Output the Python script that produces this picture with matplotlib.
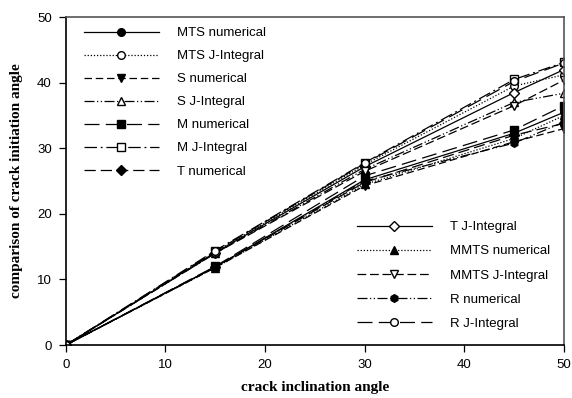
import matplotlib
matplotlib.use("Agg")
import matplotlib.pyplot as plt

# crack inclination angle
x = [0, 15, 30, 45, 50]

mts_num = [0, 11.9, 25.2, 32.3, 35.5]
mts_j = [0, 14.2, 27.5, 39.5, 41.2]
s_num = [0, 11.8, 24.3, 31.0, 33.0]
s_j = [0, 14.0, 26.8, 37.0, 38.4]
m_num = [0, 12.0, 25.8, 32.8, 36.5]
m_j = [0, 14.4, 27.8, 40.5, 43.1]
t_num = [0, 11.9, 24.8, 32.0, 33.8]
t_j = [0, 14.1, 27.2, 38.5, 42.0]
mmts_num = [0, 11.8, 24.5, 31.5, 35.0]
mmts_j = [0, 14.0, 26.5, 36.5, 40.4]
r_num = [0, 11.9, 25.0, 30.8, 34.0]
r_j = [0, 14.3, 27.7, 40.2, 43.0]

labels1 = ['MTS numerical', 'MTS J-Integral', 'S numerical', 'S J-Integral',
           'M numerical', 'M J-Integral', 'T numerical']
labels2 = ['T J-Integral', 'MMTS numerical', 'MMTS J-Integral',
           'R numerical', 'R J-Integral']

plt.rcParams['font.family'] = ['Liberation Sans', 'DejaVu Sans']

fig = plt.figure(figsize=(5.72, 3.98), dpi=100)
ax = fig.add_axes([0.115, 0.133, 0.871, 0.824])

ms = 5.5
k = dict(color='black', lw=0.9, markersize=ms, markeredgecolor='black')
fill = dict(markerfacecolor='black')
hollow = dict(markerfacecolor='white')

lines1 = [
    ax.plot(x, mts_num, '-', marker='o', **k, **fill)[0],
    ax.plot(x, mts_j, ls=(0, (1, 1.5)), marker='o', **k, **hollow)[0],
    ax.plot(x, s_num, ls=(0, (6, 3)), marker='v', **k, **fill)[0],
    ax.plot(x, s_j, ls=(0, (8, 2, 1, 2, 1, 2)), marker='^', **k, **hollow)[0],
    ax.plot(x, m_num, ls=(0, (12, 5)), marker='s', **k, **fill)[0],
    ax.plot(x, m_j, ls=(0, (10, 3, 1.5, 3)), marker='s', **k, **hollow)[0],
    ax.plot(x, t_num, ls=(0, (9, 4)), marker='D', **dict(k, markersize=5), **fill)[0],
]
lines2 = [
    ax.plot(x, t_j, '-', marker='D', **dict(k, markersize=5), **hollow)[0],
    ax.plot(x, mmts_num, ls=(0, (1, 1.5)), marker='^', **k, **fill)[0],
    ax.plot(x, mmts_j, ls=(0, (7, 3)), marker='v', **k, **hollow)[0],
    ax.plot(x, r_num, ls=(0, (8, 2, 1, 2, 1, 2)), marker='h', **k, **fill)[0],
    ax.plot(x, r_j, ls=(0, (12, 5)), marker='o', **k, **hollow)[0],
]

ax.set_xlim(0, 50)
ax.set_ylim(0, 50)
ax.set_xticks(range(0, 51, 10))
ax.set_yticks(range(0, 51, 10))
ax.tick_params(direction='out', length=5, width=0.9, labelsize=9.5, pad=5)
for s in ax.spines.values():
    s.set_color('#555555')
    s.set_linewidth(1.2)
ax.spines['left'].set_color('black')
ax.spines['bottom'].set_color('black')

ax.set_xlabel('crack inclination angle', family='Liberation Serif',
              fontweight='bold', fontsize=11, labelpad=7)
ax.set_ylabel('comparison of crack initiation angle', family='Liberation Serif',
              fontweight='bold', fontsize=11, labelpad=10)

leg1 = ax.legend(lines1, labels1, loc='upper left', bbox_to_anchor=(0.036, 0.97),
                 frameon=False, fontsize=9.5, handlelength=5.7, handletextpad=1.35,
                 labelspacing=0.82, borderpad=0, borderaxespad=0)
ax.add_artist(leg1)
ax.legend(lines2, labels2, loc='upper left', bbox_to_anchor=(0.584, 0.378),
          frameon=False, fontsize=9.5, handlelength=5.7, handletextpad=1.35,
          labelspacing=0.9, borderpad=0, borderaxespad=0)

fig.savefig('out.png', dpi=100)
